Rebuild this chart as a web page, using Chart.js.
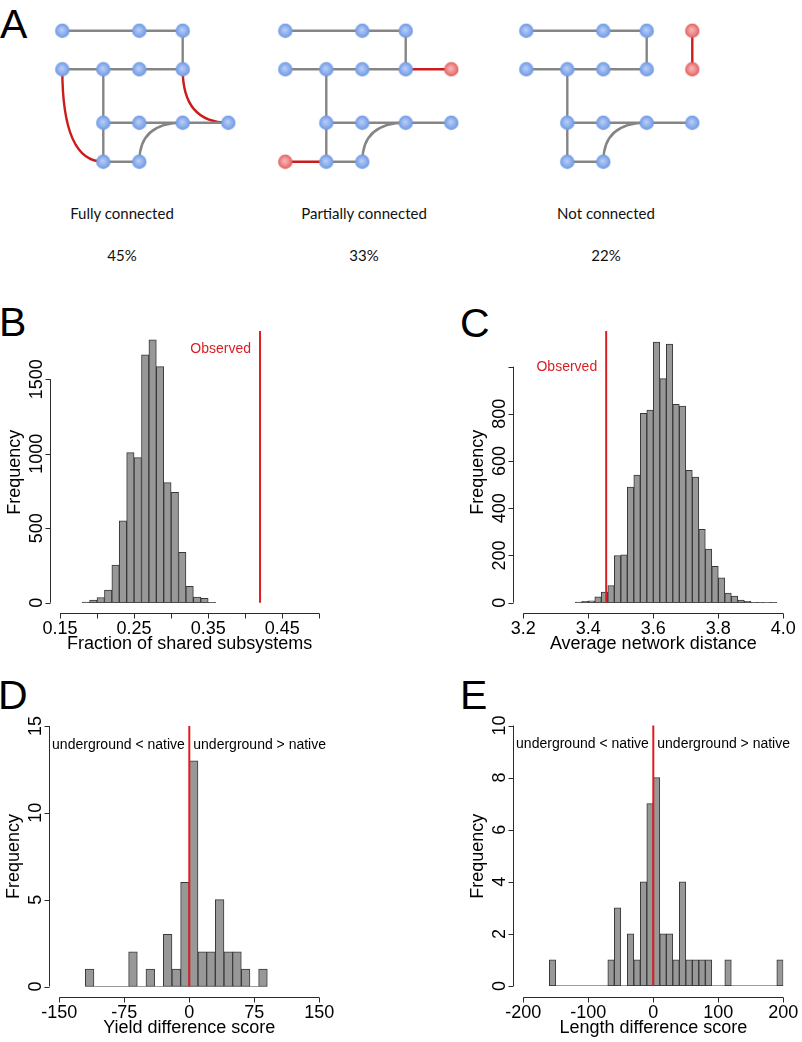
<!DOCTYPE html>
<html>
<head>
<meta charset="utf-8">
<script src="https://cdn.jsdelivr.net/npm/chart.js@4/dist/chart.umd.min.js"></script>
<style>
html,body{margin:0;padding:0;background:#fff;width:802px;height:1042px;overflow:hidden;}
canvas{position:absolute;}
.letter{position:absolute;font-family:"Liberation Sans",Arimo,Arial,sans-serif;font-size:41px;line-height:41px;color:#000;}
.lbl{position:absolute;font-family:Lato,"Open Sans",sans-serif;font-size:15px;color:#111;transform:translate(-50%,-50%);white-space:nowrap;}
</style>
</head>
<body>
<div class="letter" style="left:0px;top:4px;">A</div>
<div class="letter" style="left:-1px;top:302px;">B</div>
<div class="letter" style="left:460px;top:303px;">C</div>
<div class="letter" style="left:-2px;top:675px;">D</div>
<div class="letter" style="left:460px;top:675px;">E</div>

<canvas id="cA" width="802" height="185" style="left:0;top:0;"></canvas>
<canvas id="cB" width="400" height="370" style="left:0;top:300px;"></canvas>
<canvas id="cC" width="402" height="370" style="left:400px;top:300px;"></canvas>
<canvas id="cD" width="400" height="372" style="left:0;top:670px;"></canvas>
<canvas id="cE" width="402" height="372" style="left:400px;top:670px;"></canvas>

<script>
// ================= DATA =================
// Panel A: three example networks
const netNames = ['Fully connected', 'Partially connected', 'Not connected'];
const netShares = ['45%', '33%', '22%'];
const netLabelX = [122, 364, 606];
const netOffsetX = [0, 223, 464];
const colX = [0, 41, 77, 120.4, 166];
const rowY = [0, 38.6, 92, 131];
const coreNodes = [[0,0],[0,2],[0,3],[1,0],[1,1],[1,2],[1,3],[2,1],[2,2],[2,3],[2,4],[3,1],[3,2]]; // [row, col]
const coreEdges = [[[0,0],[0,2]],[[0,2],[0,3]],[[0,3],[1,3]],[[1,0],[1,1]],[[1,1],[1,2]],[[1,2],[1,3]],
                   [[1,1],[2,1]],[[2,1],[2,2]],[[2,2],[2,3]],[[2,3],[2,4]],[[2,1],[3,1]],[[3,1],[3,2]]];
const coreCurves = [[[3,2],[2,3]]];
const redNodes = [[], [[1,4],[3,0]], [[0,4],[1,4]]];
const redEdges = [[], [[[1,3],[1,4]],[[3,0],[3,1]]], [[[0,4],[1,4]]]];
const redCurves = [[[[1,0],[3,1]],[[1,3],[2,4]]], [], []];

// Panel B
const edgesB = [0.18,0.19,0.20,0.21,0.22,0.23,0.24,0.25,0.26,0.27,0.28,0.29,0.30,0.31,0.32,0.33,0.34,0.35,0.36];
const countsB = [5,18,35,85,253,549,1008,974,1664,1764,1585,806,741,338,110,38,29,2];
const observedB = 0.42;
const xTicksB = [0.15,0.20,0.25,0.30,0.35,0.40,0.45,0.50];
const xLabelsB = ['0.15','','0.25','','0.35','','0.45',''];
const yTicksB = [0,500,1000,1500];
const yLabelsB = ['0','500','1000','1500'];

// Panel C
const edgesC = [3.36,3.38,3.40,3.42,3.44,3.46,3.48,3.50,3.52,3.54,3.56,3.58,3.60,3.62,3.64,3.66,3.68,3.70,3.72,3.74,3.76,3.78,3.80,3.82,3.84,3.86,3.88,3.90,3.92,3.94,3.96,3.98];
const countsC = [3,6,8,25,45,73,200,203,490,541,802,816,1104,949,1096,840,833,561,532,311,227,154,105,41,28,11,6,2,2,1,2];
const observedC = 3.455;
const xTicksC = [3.2,3.4,3.6,3.8,4.0];
const xLabelsC = ['3.2','3.4','3.6','3.8','4.0'];
const yTicksC = [0,200,400,600,800,1000];
const yLabelsC = ['0','200','400','600','800',''];

// Panel D
const edgesD = [-120,-110,-100,-90,-80,-70,-60,-50,-40,-30,-20,-10,0,10,20,30,40,50,60,70,80,90];
const countsD = [1,0,0,0,0,2,0,1,0,3,1,6,13,2,2,5,2,2,1,0,1];
const xTicksD = [-150,-75,0,75,150];
const xLabelsD = ['-150','-75','0','75','150'];
const yTicksD = [0,5,10,15];
const yLabelsD = ['0','5','10','15'];

// Panel E
const edgesE = [-160,-150,-140,-130,-120,-110,-100,-90,-80,-70,-60,-50,-40,-30,-20,-10,0,10,20,30,40,50,60,70,80,90,100,110,120,130,140,150,160,170,180,190,200];
const countsE = [1,0,0,0,0,0,0,0,0,1,3,0,2,1,4,7,8,2,2,1,4,1,1,1,1,0,0,1,0,0,0,0,0,0,0,1];
const xTicksE = [-200,-100,0,100,200];
const xLabelsE = ['-200','-100','0','100','200'];
const yTicksE = [0,2,4,6,8,10];
const yLabelsE = ['0','2','4','6','8','10'];

// ================= STYLE =================
const RED = '#dc1e24';
const BAR_FILL = '#989898';
const BAR_EDGE = '#383838';
const AXIS_FONT = '18px "Liberation Sans", Arimo, Arial, sans-serif';
const NOTE_FONT = '14px "Liberation Sans", Arimo, Arial, sans-serif';

// ================= PANEL A =================
for (let i = 0; i < 3; i++) {
  const a = document.createElement('div'); a.className = 'lbl';
  a.style.left = netLabelX[i] + 'px'; a.style.top = '213px'; a.textContent = netNames[i];
  document.body.appendChild(a);
  const b = document.createElement('div'); b.className = 'lbl';
  b.style.left = netLabelX[i] + 'px'; b.style.top = '255px'; b.textContent = netShares[i];
  document.body.appendChild(b);
}

function sprite(inner, mid, outer) {
  const c = document.createElement('canvas'); c.width = 16; c.height = 16;
  const g = c.getContext('2d');
  const grd = g.createRadialGradient(7.3, 7, 0.5, 8, 8, 7.3);
  grd.addColorStop(0, inner); grd.addColorStop(0.55, mid); grd.addColorStop(1, outer);
  g.fillStyle = grd; g.beginPath(); g.arc(8, 8, 7.2, 0, Math.PI * 2); g.fill();
  return c;
}
const blueSprite = sprite('#b6cdf4', '#8fb0ee', '#6a96e4');
const redSprite = sprite('#f8b4b4', '#ef8a8a', '#e05a5a');

const pt = (n, rc) => ({ x: netOffsetX[n] + colX[rc[1]], y: rowY[rc[0]] });

const aDatasets = [];
const bluePts = [], redPts = [];
const curveList = [];
for (let n = 0; n < 3; n++) {
  coreNodes.forEach(rc => bluePts.push(pt(n, rc)));
  redNodes[n].forEach(rc => redPts.push(pt(n, rc)));
  coreEdges.forEach(e => aDatasets.push({ type: 'line', data: [pt(n, e[0]), pt(n, e[1])], borderColor: '#858585', borderWidth: 2.4, pointRadius: 0, order: 2 }));
  redEdges[n].forEach(e => aDatasets.push({ type: 'line', data: [pt(n, e[0]), pt(n, e[1])], borderColor: '#cc1b1b', borderWidth: 2.4, pointRadius: 0, order: 1 }));
  coreCurves.forEach(c => curveList.push({ p: pt(n, c[0]), q: pt(n, c[1]), color: '#858585' }));
  redCurves[n].forEach(c => curveList.push({ p: pt(n, c[0]), q: pt(n, c[1]), color: '#cc1b1b' }));
}
aDatasets.push({ type: 'scatter', data: bluePts, pointStyle: blueSprite, pointRadius: 7, order: 0 });
aDatasets.push({ type: 'scatter', data: redPts, pointStyle: redSprite, pointRadius: 7, order: 0 });

const curvePlugin = {
  id: 'curves',
  beforeDatasetsDraw(chart) {
    const { ctx } = chart; const xs = chart.scales.x, ys = chart.scales.y;
    ctx.save(); ctx.lineWidth = 2.4; ctx.lineCap = 'round';
    const k = 0.66;
    curveList.forEach(c => {
      const P = { x: xs.getPixelForValue(c.p.x), y: ys.getPixelForValue(c.p.y) };
      const Q = { x: xs.getPixelForValue(c.q.x), y: ys.getPixelForValue(c.q.y) };
      const C = { x: P.x, y: Q.y };
      ctx.strokeStyle = c.color;
      ctx.beginPath(); ctx.moveTo(P.x, P.y);
      ctx.bezierCurveTo(P.x + k * (C.x - P.x), P.y + k * (C.y - P.y), Q.x + k * (C.x - Q.x), Q.y + k * (C.y - Q.y), Q.x, Q.y);
      ctx.stroke();
    });
    ctx.restore();
  }
};

new Chart(document.getElementById('cA'), {
  type: 'scatter',
  data: { datasets: aDatasets },
  options: {
    responsive: false, animation: false, events: [], devicePixelRatio: 1,
    layout: { padding: 0, autoPadding: false },
    plugins: { legend: { display: false }, tooltip: { enabled: false } },
    scales: {
      x: { type: 'linear', min: -62.3, max: 739.7, display: false },
      y: { type: 'linear', min: -30.7, max: 154.3, reverse: true, display: false }
    }
  },
  plugins: [curvePlugin]
});

// ================= HISTOGRAMS =================
const rAxes = {
  id: 'rAxes',
  afterDraw(chart, args, o) {
    const { ctx, chartArea: ca } = chart; const xs = chart.scales.x, ys = chart.scales.y;
    ctx.save();
    ctx.font = AXIS_FONT; ctx.strokeStyle = '#2a2a2a'; ctx.lineWidth = 1; ctx.fillStyle = '#000';
    // x axis
    const axY = Math.round(ca.bottom + 10.6) + 0.5;
    const xp = o.xTicks.map(v => xs.getPixelForValue(v));
    ctx.beginPath();
    ctx.moveTo(xp[0], axY); ctx.lineTo(xp[xp.length - 1], axY);
    xp.forEach(p => { const q = Math.round(p) + 0.5; ctx.moveTo(q, axY); ctx.lineTo(q, axY + 5); });
    ctx.stroke();
    ctx.textAlign = 'center'; ctx.textBaseline = 'middle';
    o.xLabels.forEach((t, i) => { if (t) ctx.fillText(t, xp[i], axY + 15.5); });
    ctx.fillText(o.xTitle, (xp[0] + xp[xp.length - 1]) / 2, axY + 31);
    // y axis
    const axX = Math.round(ca.left - 10.5) + 0.5;
    const yp = o.yTicks.map(v => ys.getPixelForValue(v));
    ctx.beginPath();
    ctx.moveTo(axX, yp[0]); ctx.lineTo(axX, yp[yp.length - 1]);
    yp.forEach(p => { const q = Math.round(p) + 0.5; ctx.moveTo(axX, q); ctx.lineTo(axX - 5, q); });
    ctx.stroke();
    o.yLabels.forEach((t, i) => {
      if (!t) return;
      ctx.save(); ctx.translate(axX - 13, yp[i]); ctx.rotate(-Math.PI / 2); ctx.fillText(t, 0, 0); ctx.restore();
    });
    const regionTop = ys.getPixelForValue(o.yRegionTop);
    ctx.save(); ctx.translate(axX - 35.5, (regionTop + axY) / 2); ctx.rotate(-Math.PI / 2); ctx.fillText(o.yTitle, 0, 0); ctx.restore();
    // notes
    ctx.font = NOTE_FONT;
    (o.notes || []).forEach(n => {
      ctx.fillStyle = n.color; ctx.textAlign = n.align;
      ctx.fillText(n.text, xs.getPixelForValue(n.x) + n.dx, ys.getPixelForValue(n.y));
    });
    ctx.restore();
  }
};

function makeHist(id, edges, counts, lineX, opts) {
  const bars = counts.map((c, i) => ({ x: (edges[i] + edges[i + 1]) / 2, y: c }));
  new Chart(document.getElementById(id), {
    type: 'bar',
    data: {
      datasets: [
        { type: 'bar', data: bars, backgroundColor: BAR_FILL, borderColor: BAR_EDGE, borderWidth: 1, borderSkipped: false,
          barPercentage: 1, categoryPercentage: 1, order: 2 },
        { type: 'line', data: [{ x: edges[0], y: 0 }, { x: edges[edges.length - 1], y: 0 }], borderColor: BAR_EDGE,
          borderWidth: 1, pointRadius: 0, order: 1 },
        { type: 'line', data: [{ x: lineX, y: 0 }, { x: lineX, y: opts.yMax }], borderColor: RED, borderWidth: 2,
          pointRadius: 0, order: 0, clip: false }
      ]
    },
    options: {
      responsive: false, animation: false, events: [], devicePixelRatio: 1,
      layout: { padding: opts.padding, autoPadding: false },
      plugins: { legend: { display: false }, tooltip: { enabled: false }, rAxes: opts.axes },
      scales: {
        x: { type: 'linear', min: opts.xMin, max: opts.xMax, offset: false, display: false,
             ticks: { stepSize: opts.xTicksStep } },
        y: { type: 'linear', min: 0, max: opts.yMax, display: false }
      }
    },
    plugins: [rAxes]
  });
}

makeHist('cB', edgesB, countsB, observedB, {
  xMin: 0.15, xMax: 0.50, yMax: 1824, xTicksStep: 0.05,
  padding: { left: 60, right: 80.7, top: 31, bottom: 67.3 },
  axes: { xTicks: xTicksB, xLabels: xLabelsB, yTicks: yTicksB, yLabels: yLabelsB, yRegionTop: 1824,
          xTitle: 'Fraction of shared subsystems', yTitle: 'Frequency',
          notes: [{ text: 'Observed', x: observedB, y: 1700, dx: -9, align: 'right', color: RED }] }
});

makeHist('cC', edgesC, countsC, observedC, {
  xMin: 3.2, xMax: 4.0, yMax: 1151, xTicksStep: 0.2,
  padding: { left: 123.3, right: 18.7, top: 31, bottom: 67.3 },
  axes: { xTicks: xTicksC, xLabels: xLabelsC, yTicks: yTicksC, yLabels: yLabelsC, yRegionTop: 1151,
          xTitle: 'Average network distance', yTitle: 'Frequency',
          notes: [{ text: 'Observed', x: observedC, y: 1000, dx: -9, align: 'right', color: RED }] }
});

makeHist('cD', edgesD, countsD, 0, {
  xMin: -150, xMax: 150, yMax: 15, xTicksStep: 75,
  padding: { left: 59.3, right: 80.7, top: 56, bottom: 55.5 },
  axes: { xTicks: xTicksD, xLabels: xLabelsD, yTicks: yTicksD, yLabels: yLabelsD, yRegionTop: 15.6,
          xTitle: 'Yield difference score', yTitle: 'Frequency',
          notes: [{ text: 'underground < native', x: 0, y: 13.9, dx: -4.5, align: 'right', color: '#000' },
                  { text: 'underground > native', x: 0, y: 13.9, dx: 4, align: 'left', color: '#000' }] }
});

makeHist('cE', edgesE, countsE, 0, {
  xMin: -200, xMax: 200, yMax: 10, xTicksStep: 100,
  padding: { left: 123.3, right: 18.7, top: 55.5, bottom: 56 },
  axes: { xTicks: xTicksE, xLabels: xLabelsE, yTicks: yTicksE, yLabels: yLabelsE, yRegionTop: 10.4,
          xTitle: 'Length difference score', yTitle: 'Frequency',
          notes: [{ text: 'underground < native', x: 0, y: 9.27, dx: -4.5, align: 'right', color: '#000' },
                  { text: 'underground > native', x: 0, y: 9.27, dx: 4, align: 'left', color: '#000' }] }
});
</script>
</body>
</html>
